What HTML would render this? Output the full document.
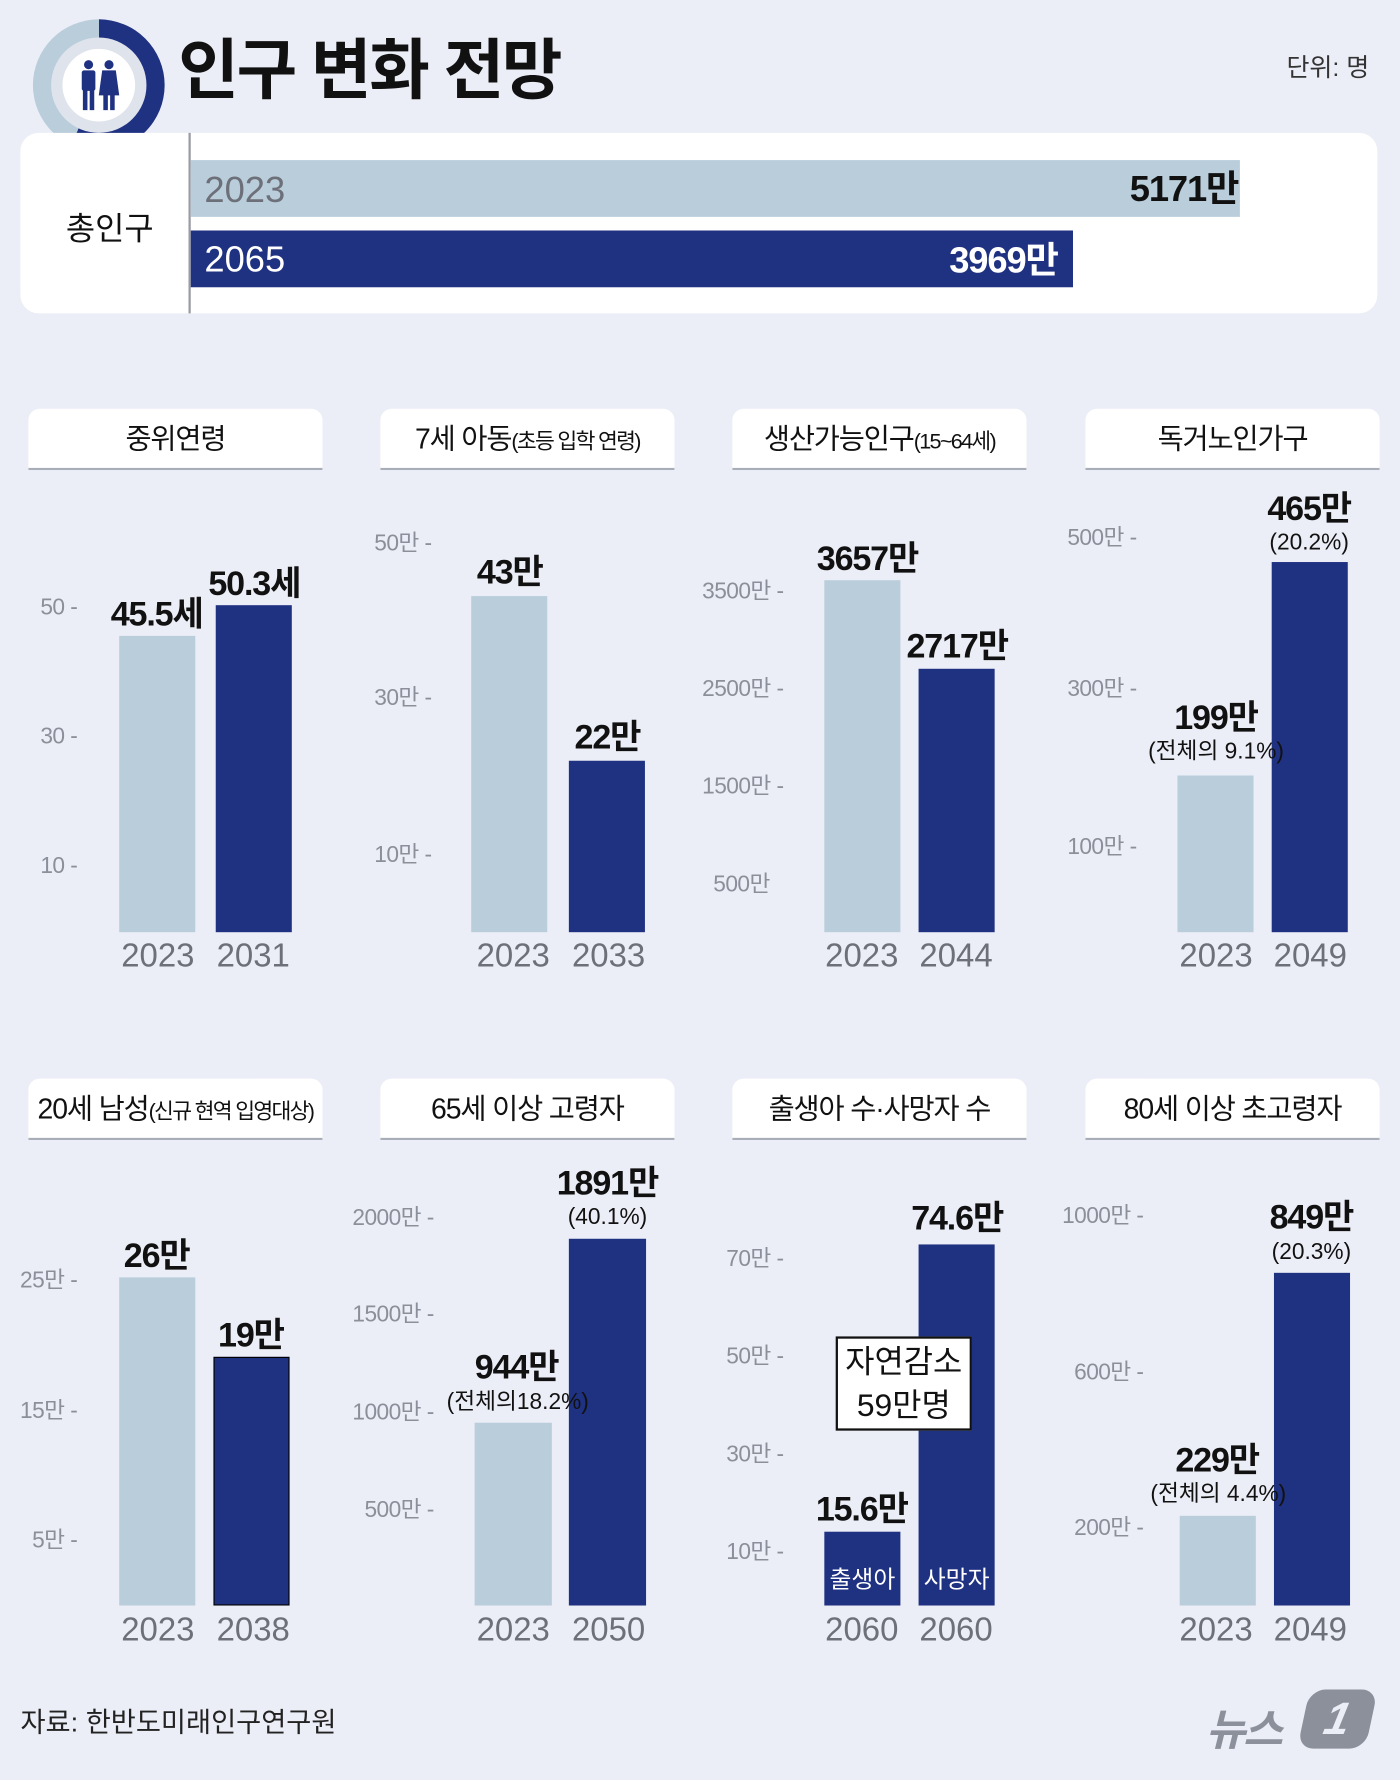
<!DOCTYPE html>
<html><head><meta charset="utf-8"><style>
html,body{margin:0;padding:0;background:#eceef7;}
body{width:1400px;height:1780px;overflow:hidden;font-family:"Liberation Sans","Noto Sans CJK KR",sans-serif;}
#w{position:absolute;left:0;top:0;width:1233px;height:1568px;transform:scale(1.13544);transform-origin:0 0;background:#eceef7;}
.a{position:absolute;}
.hd{position:absolute;width:259px;height:52px;background:#fff;border-radius:10px 10px 0 0;border-bottom:2px solid #a9adb8;text-align:center;line-height:54px;font-size:25px;color:#111;letter-spacing:-1px;white-space:nowrap}
.hd span{font-size:19px;letter-spacing:-1.5px}
.l{position:absolute;background:#b9cddb;}
.d{position:absolute;background:#1f3181;}
.t{position:absolute;font-size:20px;color:#8b8f99;text-align:right;width:120px;line-height:20px;letter-spacing:-0.5px}
.y{position:absolute;font-size:29px;color:#6d7079;width:80px;text-align:center;line-height:30px}
.v{position:absolute;font-size:30px;font-weight:bold;color:#111;width:160px;text-align:center;line-height:30px;letter-spacing:-1px}
.p{position:absolute;font-size:20px;color:#111;width:180px;text-align:center;line-height:20px}
</style></head><body><div id="w">
<div class="a" style="left:29px;top:17px;width:116px;height:116px;border-radius:50%;background:conic-gradient(#1f3181 0 205deg,#b9cddb 205deg 360deg)"></div>
<div class="a" style="left:45px;top:33px;width:84px;height:84px;border-radius:50%;background:#dfe3ec"></div>
<div class="a" style="left:55px;top:43px;width:64px;height:64px;border-radius:50%;background:#fff"></div>
<svg class="a" style="left:66px;top:52px" width="42" height="48"><g fill="#1f3181"><circle cx="12" cy="5" r="4"/><rect x="6" y="10" width="12" height="18" rx="2"/><rect x="7" y="27" width="4" height="18"/><rect x="13" y="27" width="4" height="18"/><circle cx="30" cy="5" r="4"/><polygon points="24,10 36,10 39,32 21,32"/><rect x="25" y="31" width="4" height="14"/><rect x="31" y="31" width="4" height="14"/></g></svg>
<div class="a" style="left:157px;top:28px;font-size:58px;font-weight:bold;letter-spacing:-2px;line-height:70px;color:#111">인구 변화 전망</div>
<div class="a" style="left:1133px;top:42px;font-size:22px;color:#333">단위: 명</div>
<div class="a" style="left:18px;top:117px;width:1195px;height:159px;background:#fff;border-radius:16px"></div>
<div class="a" style="left:166px;top:117px;width:2px;height:159px;background:#9a9ca3"></div>
<div class="a" style="left:58px;top:180px;font-size:28px;color:#111">총인구</div>
<div class="l" style="left:168px;top:141px;width:924px;height:50px"></div>
<div class="d" style="left:168px;top:203px;width:777px;height:50px"></div>
<div class="a" style="left:180px;top:149px;font-size:32px;color:#6d7079;line-height:36px">2023</div>
<div class="a" style="left:180px;top:210px;font-size:32px;color:#fff;line-height:36px">2065</div>
<div class="a" style="left:995px;top:148px;font-size:32px;font-weight:bold;color:#111;line-height:36px;letter-spacing:-1px">5171만</div>
<div class="a" style="left:836px;top:211px;font-size:32px;font-weight:bold;color:#fff;line-height:36px;letter-spacing:-1px">3969만</div>
<div class="hd" style="left:25px;top:360px">중위연령</div>
<div class="hd" style="left:335px;top:360px">7세 아동<span>(초등 입학 연령)</span></div>
<div class="hd" style="left:645px;top:360px">생산가능인구<span>(15~64세)</span></div>
<div class="hd" style="left:956px;top:360px">독거노인가구</div>
<div class="hd" style="left:25px;top:950px">20세 남성<span>(신규 현역 입영대상)</span></div>
<div class="hd" style="left:335px;top:950px">65세 이상 고령자</div>
<div class="hd" style="left:645px;top:950px">출생아 수·사망자 수</div>
<div class="hd" style="left:956px;top:950px">80세 이상 초고령자</div>
<div class="t" style="left:-52px;top:525px">50 -</div><div class="t" style="left:-52px;top:639px">30 -</div><div class="t" style="left:-52px;top:753px">10 -</div>
<div class="l" style="left:105px;top:560px;width:67px;height:261px"></div>
<div class="d" style="left:190px;top:533px;width:67px;height:288px"></div>
<div class="v" style="left:58px;top:527px">45.5세</div><div class="v" style="left:144px;top:500px">50.3세</div>
<div class="y" style="left:99px;top:827px">2023</div><div class="y" style="left:183px;top:827px">2031</div>
<div class="t" style="left:260px;top:469px">50만 -</div><div class="t" style="left:260px;top:605px">30만 -</div><div class="t" style="left:260px;top:743px">10만 -</div>
<div class="l" style="left:415px;top:525px;width:67px;height:296px"></div>
<div class="d" style="left:501px;top:670px;width:67px;height:151px"></div>
<div class="v" style="left:369px;top:490px">43만</div><div class="v" style="left:455px;top:635px">22만</div>
<div class="y" style="left:412px;top:827px">2023</div><div class="y" style="left:496px;top:827px">2033</div>
<div class="t" style="left:570px;top:511px">3500만 -</div><div class="t" style="left:570px;top:597px">2500만 -</div><div class="t" style="left:570px;top:683px">1500만 -</div><div class="t" style="left:558px;top:769px">500만</div>
<div class="l" style="left:726px;top:511px;width:67px;height:310px"></div>
<div class="d" style="left:809px;top:589px;width:67px;height:232px"></div>
<div class="v" style="left:684px;top:478px">3657만</div><div class="v" style="left:763px;top:555px">2717만</div>
<div class="y" style="left:719px;top:827px">2023</div><div class="y" style="left:802px;top:827px">2044</div>
<div class="t" style="left:881px;top:464px">500만 -</div><div class="t" style="left:881px;top:597px">300만 -</div><div class="t" style="left:881px;top:736px">100만 -</div>
<div class="l" style="left:1037px;top:683px;width:67px;height:138px"></div>
<div class="d" style="left:1120px;top:495px;width:67px;height:326px"></div>
<div class="v" style="left:991px;top:618px">199만</div><div class="p" style="left:981px;top:652px">(전체의 9.1%)</div>
<div class="v" style="left:1073px;top:434px">465만</div><div class="p" style="left:1063px;top:468px">(20.2%)</div>
<div class="y" style="left:1031px;top:827px">2023</div><div class="y" style="left:1114px;top:827px">2049</div>
<div class="t" style="left:-52px;top:1118px">25만 -</div><div class="t" style="left:-52px;top:1233px">15만 -</div><div class="t" style="left:-52px;top:1347px">5만 -</div>
<div class="l" style="left:105px;top:1125px;width:67px;height:289px"></div>
<div class="d" style="left:188px;top:1195px;width:65px;height:217px;border:1px solid #000"></div>
<div class="v" style="left:58px;top:1092px">26만</div><div class="v" style="left:141px;top:1162px">19만</div>
<div class="y" style="left:99px;top:1421px">2023</div><div class="y" style="left:183px;top:1421px">2038</div>
<div class="t" style="left:262px;top:1063px">2000만 -</div><div class="t" style="left:262px;top:1148px">1500만 -</div><div class="t" style="left:262px;top:1234px">1000만 -</div><div class="t" style="left:262px;top:1320px">500만 -</div>
<div class="l" style="left:418px;top:1253px;width:68px;height:161px"></div>
<div class="d" style="left:501px;top:1091px;width:68px;height:323px"></div>
<div class="v" style="left:375px;top:1190px">944만</div><div class="p" style="left:366px;top:1225px">(전체의18.2%)</div>
<div class="v" style="left:455px;top:1028px">1891만</div><div class="p" style="left:445px;top:1062px">(40.1%)</div>
<div class="y" style="left:412px;top:1421px">2023</div><div class="y" style="left:496px;top:1421px">2050</div>
<div class="t" style="left:570px;top:1099px">70만 -</div><div class="t" style="left:570px;top:1185px">50만 -</div><div class="t" style="left:570px;top:1271px">30만 -</div><div class="t" style="left:570px;top:1357px">10만 -</div>
<div class="d" style="left:726px;top:1349px;width:67px;height:65px"></div>
<div class="d" style="left:809px;top:1096px;width:67px;height:318px"></div>
<div class="a" style="left:726px;top:1375px;width:67px;text-align:center;color:#fff;font-size:21px">출생아</div>
<div class="a" style="left:809px;top:1375px;width:67px;text-align:center;color:#fff;font-size:21px">사망자</div>
<div class="v" style="left:679px;top:1315px">15.6만</div><div class="v" style="left:763px;top:1059px">74.6만</div>
<div class="a" style="left:736px;top:1177px;width:120px;height:83px;background:#fff;border:2px solid #111;text-align:center;font-size:28px;line-height:38px;color:#111;padding-top:2px;box-sizing:border-box">자연감소<br>59만명</div>
<div class="y" style="left:719px;top:1421px">2060</div><div class="y" style="left:802px;top:1421px">2060</div>
<div class="t" style="left:887px;top:1061px">1000만 -</div><div class="t" style="left:887px;top:1199px">600만 -</div><div class="t" style="left:887px;top:1336px">200만 -</div>
<div class="l" style="left:1039px;top:1335px;width:67px;height:79px"></div>
<div class="d" style="left:1122px;top:1121px;width:67px;height:293px"></div>
<div class="v" style="left:992px;top:1272px">229만</div><div class="p" style="left:983px;top:1306px">(전체의 4.4%)</div>
<div class="v" style="left:1075px;top:1058px">849만</div><div class="p" style="left:1065px;top:1093px">(20.3%)</div>
<div class="y" style="left:1031px;top:1421px">2023</div><div class="y" style="left:1114px;top:1421px">2049</div>
<div class="a" style="left:18px;top:1497px;font-size:24px;color:#222">자료: 한반도미래인구연구원</div>
<div class="a" style="left:1062px;top:1493px;font-size:38px;font-weight:bold;color:#8c909a;font-style:italic;letter-spacing:-2px">뉴스</div>
<div class="a" style="left:1148px;top:1488px;width:60px;height:52px;background:#8c909a;border-radius:14px;transform:skewX(-12deg);color:#eceef7;font-size:40px;font-weight:bold;text-align:center;line-height:52px;font-style:italic">1</div>
</div></body></html>
